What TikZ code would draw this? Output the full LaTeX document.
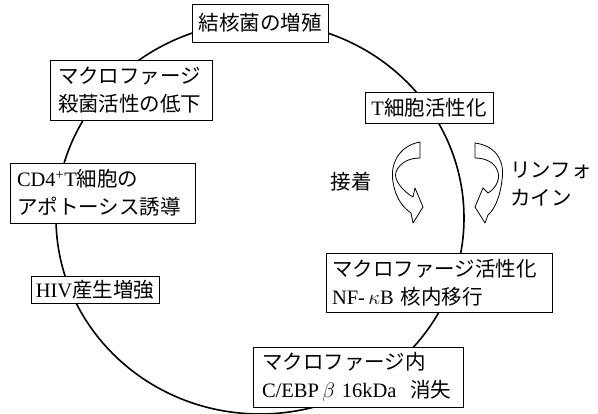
\documentclass[tikz,border=0pt]{standalone}
\usepackage{fontspec}
\setmainfont{Liberation Serif}
\newfontfamily\jpf{Noto Sans CJK JP}
\newcommand\jp[1]{{\jpf #1}}
\begin{document}
\begin{tikzpicture}[x=1pt,y=-1pt,
  every node/.style={font=\fontsize{20.5}{28}\selectfont},
  box/.style={draw, line width=0.9pt, fill=white, inner sep=0pt},
  lbox/.style={box, align=left, inner xsep=#1},
  ribbon/.style={draw, line width=0.8pt, fill=white, line join=round}]
\useasboundingbox (0,0) rectangle (598,414);
% cycle
\draw[line width=1.6pt] (260,218) ellipse [x radius=204, y radius=196];
% boxes
\node[box, minimum width=136, minimum height=38] (tb) at (260,23) {\jp{結核菌の増殖}};
\node[lbox=8, text width=146, minimum height=60] (mk) at (131,90) {\jp{マクロファージ}\\\jp{殺菌活性の低下}};
\node[box, minimum width=128, minimum height=31] (tc) at (429,107.5) {T\jp{細胞活性化}};
\node[lbox=7, text width=171, minimum height=60] (cd) at (102.5,193) {CD4\textsuperscript{+}T\jp{細胞の}\\\jp{アポトーシス誘導}};
\node[box, minimum width=128, minimum height=27] (hiv) at (95,289.5) {HIV\jp{産生増強}};
\node[lbox=6, text width=214, minimum height=59] (ma) at (439,282.5) {\jp{マクロファージ活性化}\\NF-\,$\kappa$B \jp{核内移行}};
\node[lbox=9, text width=192, minimum height=60] (ce) at (358,377) {\jp{マクロファージ内}\\C/EBP\,$\beta$ 16kDa\ \ \jp{消失}};
% labels
\node (adh) at (351,182) {\jp{接着}};
\node[anchor=west, align=left, inner sep=0pt] (lk) at (510,184) {\jp{リンフォ}\\\jp{カイン}};
% curved ribbon arrows
\draw[ribbon] (420,142) .. controls (398,146) and (390,165) .. (393,182)
  .. controls (396,200) and (404,208) .. (411,213) -- (413,223) -- (423,207)
  -- (415,188) -- (413,197) .. controls (404,192) and (393,180) .. (396,172)
  .. controls (400,162) and (410,158) .. (420,158) -- cycle;
\draw[ribbon] (475,143) .. controls (497,146) and (505,162) .. (502,180)
  .. controls (500,198) and (494,210) .. (488,215) -- (485,223) -- (475,207)
  -- (483,188) -- (488,193) .. controls (496,188) and (500,180) .. (498,172)
  .. controls (495,162) and (485,158) .. (475,158) -- cycle;
\end{tikzpicture}
\end{document}
